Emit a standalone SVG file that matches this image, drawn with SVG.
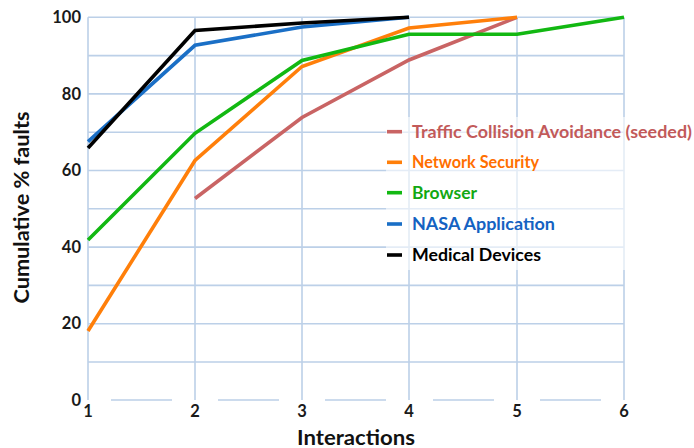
<svg xmlns="http://www.w3.org/2000/svg" width="694" height="448" viewBox="0 0 694 448">
<style>
.grid{stroke:#bcd0e8;stroke-width:1.6;fill:none}
.s{fill:none;stroke-width:3.6;stroke-linejoin:miter;stroke-linecap:butt}
.t{font-family:Lato,"Open Sans",sans-serif;font-weight:700;fill:#1a1a1a}
.tick{font-size:16.5px}
.lg{font-size:16.5px}
</style>
<rect width="694" height="448" fill="#fff"/>
<g id="grid">
<path class="grid" d="M88,17.3H624M88,55.6H624M88,93.9H624M88,132.2H624M88,170.5H624M88,208.8H624M88,247.1H624M88,285.4H624M88,323.7H624M88,362H624"/>
<path class="grid" d="M88,17.3V400M195,17.3V400M302,17.3V400M409,17.3V400M517,17.3V400M624,17.3V400"/>
<path class="grid" d="M111,400H172M218,400H279M325,400H386M433,400H494M540,400H601"/>
</g>
<g id="connectors">
<polyline class="s" stroke="#c96464" points="195,198.5 302,117.5 409,60 517,17.3"/>
<polyline class="s" stroke="#ff7f0a" points="88,331 195,160.5 302,66.5 409,28 517,17.3"/>
<polyline class="s" stroke="#12b812" points="88,240 195,133.3 302,60.5 409,34.3 517,34.3 624,17.3"/>
<polyline class="s" stroke="#1a6fc6" points="88,141.7 195,45.3 302,27 409,17.3"/>
<polyline class="s" stroke="#000" points="88,148 195,30.5 302,23 409,17.3"/>
</g>
<rect x="386" y="117" width="308" height="153" fill="#fff" fill-opacity="0.6"/>
<g id="legend">
<g id="leg-traffic"><path d="M387,131.7H402" stroke="#c96464" stroke-width="3.6"/><text class="t lg" x="412" y="137.6" textLength="280" lengthAdjust="spacingAndGlyphs" style="fill:#c25a5a">Traffic Collision Avoidance (seeded)</text></g>
<g id="leg-network"><path d="M387,162.3H402" stroke="#ff7f0a" stroke-width="3.6"/><text class="t lg" x="412" y="168.2" textLength="127" lengthAdjust="spacingAndGlyphs" style="fill:#ff6f00">Network Security</text></g>
<g id="leg-browser"><path d="M387,192.7H402" stroke="#12b812" stroke-width="3.6"/><text class="t lg" x="412" y="198.6" textLength="65" lengthAdjust="spacingAndGlyphs" style="fill:#12a812">Browser</text></g>
<g id="leg-nasa"><path d="M387,224H402" stroke="#1a6fc6" stroke-width="3.6"/><text class="t lg" x="412" y="229.9" textLength="143" lengthAdjust="spacingAndGlyphs" style="fill:#1462c2">NASA Application</text></g>
<g id="leg-medical"><path d="M387,255H402" stroke="#000" stroke-width="3.6"/><text class="t lg" x="412" y="260.9" textLength="129" lengthAdjust="spacingAndGlyphs" style="fill:#000">Medical Devices</text></g>
</g>
<g id="yticks" class="t tick" text-anchor="end">
<text x="81" y="23">100</text>
<text x="81" y="99.5">80</text>
<text x="81" y="176">60</text>
<text x="81" y="252.5">40</text>
<text x="81" y="329">20</text>
<text x="81" y="406">0</text>
</g>
<g id="xticks" class="t tick" text-anchor="middle">
<text x="88" y="417">1</text>
<text x="195" y="417">2</text>
<text x="302" y="417">3</text>
<text x="409" y="417">4</text>
<text x="517" y="417">5</text>
<text x="624" y="417">6</text>
</g>
<text class="t" x="297" y="445" font-size="21" textLength="118" lengthAdjust="spacingAndGlyphs" style="fill:#111">Interactions</text>
<text class="t" transform="translate(28.5,303.5) rotate(-90)" font-size="21" textLength="192" lengthAdjust="spacingAndGlyphs" style="fill:#111">Cumulative % faults</text>
</svg>
